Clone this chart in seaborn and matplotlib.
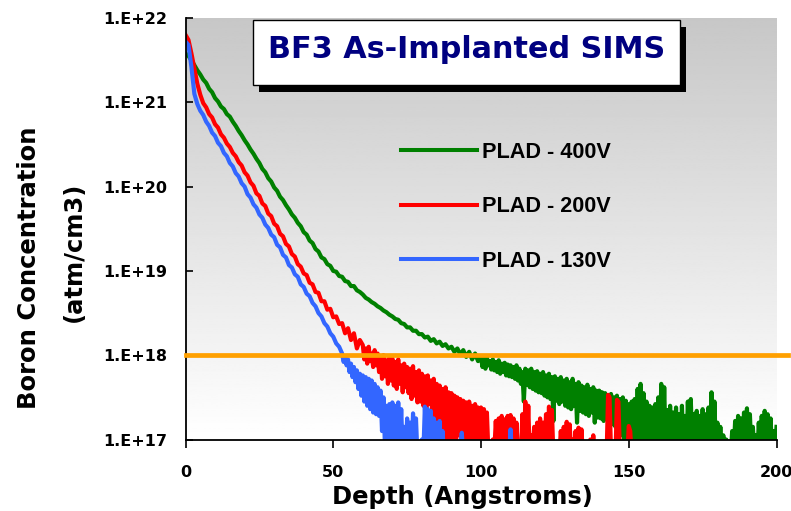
import numpy as np
import pandas as pd
import matplotlib
matplotlib.use("Agg")
import matplotlib.pyplot as plt
import seaborn as sns
from matplotlib.patches import Rectangle
from matplotlib.lines import Line2D
from matplotlib.ticker import NullLocator

# ---------------- data: log10 boron concentration read from the SIMS profiles ----------------
# smooth part sampled every 1 A from the surface, noisy tail sampled every 0.5 A

log_400V_smooth = [
    21.58, 21.55, 21.50, 21.44, 21.38, 21.33, 21.27, 21.23, 21.16, 21.12,
    21.05, 21.01, 20.95, 20.92, 20.86, 20.83, 20.77, 20.72, 20.66, 20.61,
    20.55, 20.50, 20.44, 20.39, 20.33, 20.28, 20.21, 20.17, 20.10, 20.06,
    19.99, 19.95, 19.88, 19.84, 19.78, 19.73, 19.67, 19.63, 19.57, 19.53,
    19.46, 19.43, 19.36, 19.33, 19.26, 19.23, 19.16, 19.14, 19.08, 19.06,
    19.00, 18.99, 18.94, 18.93, 18.88, 18.87, 18.82, 18.82, 18.77, 18.75,
    18.72, 18.68, 18.66, 18.63, 18.61, 18.58, 18.56, 18.53, 18.51, 18.48,
    18.46, 18.43, 18.42, 18.38, 18.37, 18.33, 18.33, 18.29, 18.29, 18.25,
    18.25, 18.21, 18.22, 18.17, 18.19, 18.14, 18.16, 18.11, 18.13, 18.08,
    18.10, 18.04, 18.08, 18.01, 18.06, 17.98, 18.04, 17.95, 18.02, 17.93,
]
log_400V_tail = [
    17.98, 17.86, 17.96, 17.84, 17.97, 17.88, 17.93, 17.83, 17.95, 17.82,
    17.92, 17.80, 17.94, 17.78, 17.90, 17.80, 17.91, 17.76, 17.89, 17.75,
    17.88, 17.74, 17.86, 17.72, 17.88, 17.70, 17.84, 17.66, 17.80, 17.45,
    17.84, 17.65, 17.82, 17.62, 17.84, 17.60, 17.80, 17.58, 17.81, 17.56,
    17.78, 17.55, 17.80, 17.52, 17.76, 17.50, 17.78, 17.48, 17.74, 17.22,
    17.75, 17.46, 17.72, 17.42, 17.74, 17.45, 17.70, 17.40, 17.72, 17.38,
    17.68, 17.36, 17.72, 17.40, 17.66, 17.20, 17.68, 17.34, 17.64, 17.32,
    17.62, 17.30, 17.65, 17.28, 17.60, 17.32, 17.62, 17.20, 17.58, 17.26,
    17.58, 17.25, 17.56, 17.22, 17.55, 17.24, 17.52, 17.20, 17.54, 17.18,
    17.50, 17.15, 17.52, 17.10, 17.48, 17.05, 17.50, 16.95, 17.46, 16.85,
    17.42, 16.85, 17.45, 16.90, 17.48, 16.85, 17.60, 16.90, 17.66, 16.85,
    17.55, 16.85, 17.45, 16.90, 17.40, 16.85, 17.38, 16.90, 17.42, 16.85,
    17.50, 16.90, 17.66, 16.85, 17.62, 16.90, 17.35, 16.85, 17.40, 16.85,
    17.32, 16.85, 17.38, 16.90, 17.30, 16.85, 17.40, 16.85, 17.28, 16.85,
    17.45, 16.90, 17.48, 16.85, 17.30, 16.85, 17.34, 16.90, 17.28, 16.85,
    17.36, 16.85, 17.30, 16.90, 17.38, 16.85, 17.56, 16.90, 17.45, 16.85,
    17.20, 16.85, 17.15, 16.85, 17.05, 16.80, 17.00, 16.80, 16.95, 16.80,
    17.10, 16.85, 17.22, 16.85, 17.28, 16.90, 17.25, 16.85, 17.32, 16.85,
    17.37, 16.90, 17.30, 16.85, 17.15, 16.85, 17.05, 16.80, 17.20, 16.85,
    17.28, 16.85, 17.34, 16.90, 17.30, 16.85, 17.25, 16.85, 17.10, 16.85,
    17.15,
]

log_200V_smooth = [
    21.80, 21.74, 21.58, 21.40, 21.22, 21.09, 20.99, 20.94, 20.86, 20.82,
    20.74, 20.70, 20.62, 20.58, 20.51, 20.47, 20.40, 20.36, 20.29, 20.25,
    20.17, 20.13, 20.05, 20.01, 19.92, 19.89, 19.80, 19.77, 19.68, 19.65,
    19.56, 19.53, 19.44, 19.41, 19.32, 19.29, 19.20, 19.17, 19.08, 19.05,
    18.97, 18.95, 18.86, 18.84, 18.75, 18.74, 18.64, 18.64, 18.54, 18.55,
    18.45, 18.46, 18.37, 18.38, 18.26, 18.32, 18.18, 18.26, 18.08, 18.18,
]
log_200V_tail = [
    18.12, 17.95, 18.08, 17.90, 18.10, 17.93, 18.02, 17.86, 18.06, 17.88,
    18.02, 17.80, 17.98, 17.72, 18.00, 17.75, 17.94, 17.66, 17.97, 17.70,
    17.96, 17.64, 17.92, 17.60, 17.95, 17.66, 17.88, 17.56, 17.90, 17.62,
    17.86, 17.55, 17.84, 17.48, 17.87, 17.52, 17.80, 17.44, 17.82, 17.45,
    17.78, 17.40, 17.75, 17.35, 17.76, 17.42, 17.70, 17.30, 17.72, 17.26,
    17.66, 17.20, 17.64, 17.10, 17.60, 17.00, 17.62, 16.95, 17.56, 16.90,
    17.55, 16.90, 17.52, 16.85, 17.50, 17.05, 17.48, 16.85, 17.46, 16.90,
    17.44, 16.85, 17.45, 16.90, 17.40, 16.85, 17.42, 16.95, 17.38, 16.85,
    17.38, 16.85, 17.36, 16.90, 17.32, 16.85, 16.95, 16.80, 17.00, 16.85,
    17.22, 16.85, 17.25, 16.90, 17.28, 16.85, 17.24, 16.90, 17.28, 16.85,
    17.29, 16.85, 17.25, 16.90, 17.20, 16.85, 16.95, 16.80, 17.30, 16.90,
    17.45, 16.85, 17.40, 16.80, 17.05, 16.85, 17.15, 16.80, 17.20, 16.85,
    17.25, 16.85, 17.20, 16.80, 17.30, 16.85, 17.39, 16.90, 17.35, 16.80,
    16.95, 16.80, 16.90, 16.80, 17.10, 16.85, 17.15, 16.85, 17.21, 16.85,
    17.18, 16.85, 17.00, 16.80, 17.10, 16.85, 17.14, 16.85, 17.12, 16.80,
    16.90, 16.80, 16.85, 16.80, 17.00, 16.80, 17.05, 16.80, 16.90, 16.80,
    16.85, 16.80, 16.90, 16.80, 16.85, 16.80, 17.53, 17.50, 16.85, 16.80,
    16.85, 16.80, 17.47, 17.45, 16.85, 16.80, 16.85, 16.80, 16.90, 16.80,
    17.16, 17.10, 16.80,
]

log_130V_smooth = [
    21.72, 21.68, 21.42, 21.10, 20.98, 20.90, 20.85, 20.77, 20.72, 20.64,
    20.60, 20.52, 20.48, 20.40, 20.36, 20.28, 20.24, 20.16, 20.12, 20.04,
    20.00, 19.91, 19.87, 19.79, 19.75, 19.67, 19.63, 19.55, 19.51, 19.43,
    19.40, 19.31, 19.28, 19.19, 19.16, 19.07, 19.04, 18.96, 18.93, 18.84,
    18.81, 18.73, 18.70, 18.62, 18.58, 18.50, 18.46, 18.38, 18.34, 18.26,
    18.22, 18.14, 18.10,
]
log_130V_tail = [
    18.02, 17.92, 17.98, 17.88, 17.95, 17.80, 17.90, 17.74, 17.86, 17.68,
    17.82, 17.60, 17.78, 17.52, 17.76, 17.45, 17.74, 17.40, 17.72, 17.36,
    17.70, 17.32, 17.66, 17.30, 17.62, 17.28, 17.58, 17.10, 17.50, 16.90,
    17.40, 16.85, 17.42, 16.90, 17.44, 16.85, 17.40, 16.90, 17.44, 16.85,
    17.36, 16.85, 17.15, 16.80, 17.25, 16.85, 17.20, 16.85, 17.31, 16.90,
    17.25, 16.80, 16.90, 16.80, 17.00, 16.85, 17.39, 16.90, 17.36, 16.85,
    17.34, 16.90, 17.25, 16.85, 17.20, 16.85, 17.22, 16.85, 17.10, 16.80,
    16.80, 16.80, 16.80, 16.80, 16.80, 16.80, 16.80, 16.80, 16.80, 16.80,
    16.90, 17.08, 16.80, 16.80, 16.80, 16.80, 16.80, 16.80, 16.80, 16.80,
    16.80, 16.80, 16.80, 16.80, 16.80, 16.80, 16.80, 16.80, 16.80, 16.80,
    16.80, 16.80, 16.80, 16.80, 16.80, 16.80, 16.80, 16.80, 16.80, 16.80,
    16.80, 16.80, 16.80, 16.80, 17.12, 16.80, 16.80,
]

series_labels = ["PLAD - 400V", "PLAD - 200V", "PLAD - 130V"]
series_colors = ["#008000", "#FF0000", "#3366FF"]
x_ticks = [0, 50, 100, 150, 200]
x_tick_labels = ["0", "50", "100", "150", "200"]
y_tick_values = [1e17, 1e18, 1e19, 1e20, 1e21, 1e22]
y_tick_labels = ["1.E+17", "1.E+18", "1.E+19", "1.E+20", "1.E+21", "1.E+22"]
reference_level = 1e18
chart_title = "BF3 As-Implanted SIMS"
x_label = "Depth (Angstroms)"
y_label_1 = "Boron Concentration"
y_label_2 = "(atm/cm3)"

# ---------------- long-form table ----------------
frames = []
for lab, smooth, tail in zip(series_labels,
                             [log_400V_smooth, log_200V_smooth, log_130V_smooth],
                             [log_400V_tail, log_200V_tail, log_130V_tail]):
    n = len(smooth)
    depth = np.concatenate([np.arange(n, dtype=float), n + 0.5 * np.arange(len(tail))])
    vals = np.array(smooth + tail)
    frames.append(pd.DataFrame({"depth": depth, "conc": 10.0 ** vals, "series": lab}))
df = pd.concat(frames, ignore_index=True)

# ---------------- figure ----------------
W, H = 791, 511
fig = plt.figure(figsize=(W / 100, H / 100), dpi=100)
fig.patch.set_facecolor("white")

L, R, T, B = 185.5, 776.5, 18.0, 439.5
rect = [L / W, 1 - B / H, (R - L) / W, (B - T) / H]

# gradient plot-area background
bg = fig.add_axes(rect, zorder=0)
grad = np.linspace(0.78, 1.0, 256).reshape(-1, 1)
bg.imshow(grad, aspect="auto", cmap="gray", vmin=0, vmax=1, extent=[0, 1, 0, 1], origin="upper")
bg.axis("off")

ax = fig.add_axes(rect, zorder=1)
ax.patch.set_alpha(0)

sns.lineplot(data=df, x="depth", y="conc", hue="series", hue_order=series_labels,
             palette=dict(zip(series_labels, series_colors)), estimator=None,
             lw=3.0, legend=False, ax=ax)

ax.set_yscale("log")
ax.set_xlim(0, 200)
ax.set_ylim(1e17, 1e22)

ax.axhline(reference_level, xmin=0, xmax=1.019, color="#FFA000", lw=3.4, clip_on=False, zorder=5)

ax.set_xticks(x_ticks, labels=x_tick_labels, fontsize=11.5, fontweight="bold")
ax.set_yticks(y_tick_values, labels=y_tick_labels, fontsize=11.5, fontweight="bold")
ax.yaxis.set_minor_locator(NullLocator())
ax.xaxis.set_minor_locator(NullLocator())

ax.tick_params(axis="y", which="major", direction="in", length=5, width=1.2, pad=13)
ax.tick_params(axis="x", which="major", direction="out", length=6, width=1.2, pad=12)

for s in ["top", "right"]:
    ax.spines[s].set_visible(False)
for s in ["left", "bottom"]:
    ax.spines[s].set_linewidth(1.3)
    ax.spines[s].set_color("black")
ax.set_xlabel("")
ax.set_ylabel("")

# axis labels
fig.text(462 / W, 1 - 497 / H, x_label, ha="center", va="center", fontsize=17.5, fontweight="bold")
fig.text(29 / W, 1 - 268 / H, y_label_1, ha="center", va="center", rotation=90, fontsize=17.5, fontweight="bold")
fig.text(73.5 / W, 1 - 252 / H, y_label_2, ha="center", va="center", rotation=90, fontsize=17.5, fontweight="bold")

# legend
handles = [Line2D([], [], color=c, lw=2.9) for c in series_colors]
ax.legend(handles, series_labels, loc="center left", bbox_to_anchor=(401 / W, 1 - 207 / H),
          bbox_transform=fig.transFigure, frameon=False,
          prop=dict(family="Liberation Sans", weight="bold", size=15.6), handlelength=3.5,
          handletextpad=0.25, labelspacing=1.55, borderpad=0, borderaxespad=0)

# title box with shadow
bx0, by0, bx1, by1 = 253, 20, 680, 85
fig.add_artist(Rectangle(((bx0 + 6) / W, 1 - (by1 + 7) / H), (bx1 - bx0) / W, (by1 - by0) / H,
                         transform=fig.transFigure, facecolor="black", edgecolor="none", zorder=5))
fig.add_artist(Rectangle((bx0 / W, 1 - by1 / H), (bx1 - bx0) / W, (by1 - by0) / H,
                         transform=fig.transFigure, facecolor="white", edgecolor="black", lw=1.0, zorder=6))
fig.text((bx0 + bx1) / 2 / W, 1 - 50 / H, chart_title, ha="center", va="center",
         fontsize=21.8, fontweight="bold", color="#000080", zorder=7)

fig.savefig("out.png", dpi=100)
